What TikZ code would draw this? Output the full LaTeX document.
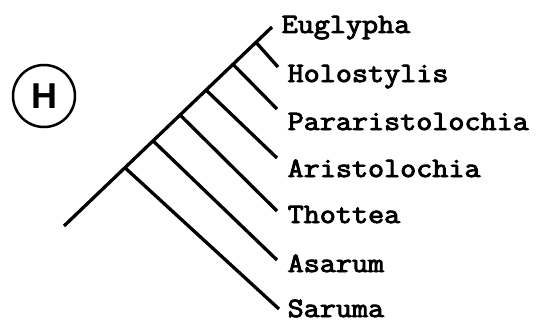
\documentclass[tikz,border=0pt]{standalone}
\usepackage{fontspec}
\newfontfamily\panelfont{Liberation Sans}
\newfontfamily\taxonfont{Latin Modern Mono}[FakeBold=3]
\usetikzlibrary{calc}

\tikzset{
  taxon/.style={anchor=base west, inner sep=0pt,
    font=\taxonfont\fontsize{28}{30}\selectfont},
  panel/.style={draw, circle, line width=2.5pt, minimum size=62pt, inner sep=0pt,
    font=\panelfont\bfseries\fontsize{36}{38}\selectfont}
}
\newcommand{\taxname}[1]{\scalebox{1.115}[1]{#1}}

\begin{document}
\begin{tikzpicture}[x=1pt, y=-1pt, line width=3.3pt]
  \useasboundingbox (0,0) rectangle (540,321);
  \node[panel] (lbl) at (44,96) {H};
  % main axis of the tree
  \coordinate (root) at (64,226);
  \coordinate (top) at (272,27);
  \draw (root) -- (top);
  \node[taxon] (t7) at (280,33) {\taxname{Euglypha}};
  \foreach \n/\t/\ex/\ey/\by/\lab in {1/0.293/279/309/317/Saruma,
      2/0.428/277/260/272/Asarum, 3/0.558/277/211/223/Thottea,
      4/0.683/277/158/177/Aristolochia, 5/0.8125/277/109/130/Pararistolochia,
      6/0.923/278/67/82/Holostylis}
  {
    \coordinate (b\n) at ($(root)!\t!(top)$);
    \coordinate (e\n) at (\ex,\ey);
    \node[taxon] (t\n) at (286,\by) {\taxname{\lab}};
    \draw (b\n) -- (e\n);
  }
\end{tikzpicture}
\end{document}
